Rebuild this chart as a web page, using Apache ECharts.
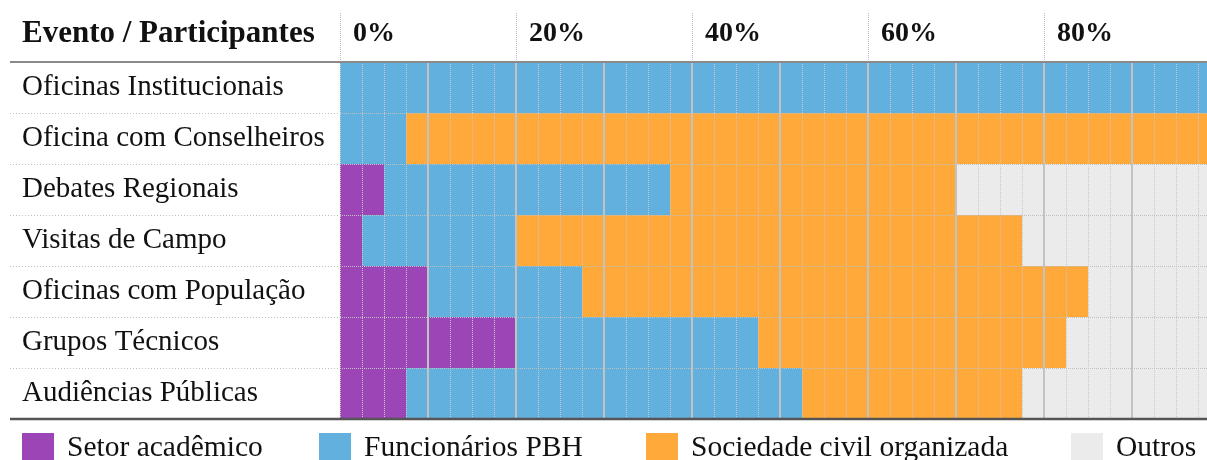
<!DOCTYPE html>
<html>
<head>
<meta charset="utf-8">
<script src="https://cdn.jsdelivr.net/npm/echarts@6/dist/echarts.min.js"></script>
<style>
html,body{margin:0;padding:0;background:#fff;}
#chart{width:1207px;height:460px;}
</style>
</head>
<body>
<div id="chart"></div>
<script>
const categories = ['Oficinas Institucionais','Oficina com Conselheiros','Debates Regionais','Visitas de Campo','Oficinas com População','Grupos Técnicos','Audiências Públicas'];
const academico = [0, 0, 5, 2.5, 10, 20, 7.5];
const funcionarios = [100, 7.5, 32.5, 17.5, 17.5, 27.5, 45];
const sociedade = [0, 92.5, 32.5, 57.5, 57.5, 35, 25];
const outros = [0, 0, 30, 22.5, 15, 17.5, 22.5];
const seriesNames = ['Setor acadêmico','Funcionários PBH','Sociedade civil organizada','Outros'];
const seriesColors = ['#9b45b7','#62b0dd','#fea93a','#ebebeb'];
const tickLabelSuffix = '%';
const headerTitle = 'Evento / Participantes';

(function () {
const FONT = 'Liberation Serif';
const chart = echarts.init(document.getElementById('chart'));
const values = [academico, funcionarios, sociedade, outros];
const legendLefts = [22, 319, 646, 1071];

const option = {
  animation: false,
  grid: {left: 340, top: 62, width: 880, height: 357, containLabel: false, outerBoundsMode: 'none'},
  xAxis: [
    {type:'value', min:0, max:100, interval:20, position:'top', z:10,
     axisLine:{show:false},
     axisTick:{show:true, inside:false, length:50, lineStyle:{type:'dotted', color:'#bbb', width:1}},
     axisLabel:{show:true, showMaxLabel:false, formatter: v => v + tickLabelSuffix, align:'left', verticalAlign:'middle', margin:28,
       padding:[0,0,0,13], fontFamily:FONT, fontWeight:'bold', fontSize:28, color:'#111'},
     splitLine:{show:false}},
    {type:'value', min:0, max:100, interval:2.5, z:10,
     axisLine:{show:false}, axisTick:{show:false}, axisLabel:{show:false},
     splitLine:{show:true, lineStyle:{type:'dotted', color:'#c8c8c8', width:1}}},
    {type:'value', min:0, max:100, interval:10, z:11,
     axisLine:{show:false}, axisTick:{show:false}, axisLabel:{show:false},
     splitLine:{show:true, showMinLine:false, lineStyle:{type:'solid', color:'#c2c2c2', width:2}}}
  ],
  yAxis: {type:'category', inverse:true, data:categories, z:10,
    axisLine:{show:false}, axisTick:{show:false},
    axisLabel:{align:'left', margin:318, fontFamily:FONT, fontSize:29, color:'#111'},
    splitLine:{show:true, lineStyle:{type:'dotted', color:'#c0c0c0', width:1}}},
  legend: seriesNames.map((n, i) => ({
    data:[n], left: legendLefts[i], top: 433, padding:0, icon:'rect', itemWidth:32, itemHeight:30,
    selectedMode:false, textStyle:{fontFamily:FONT, fontSize:29.5, color:'#111', padding:[0,0,0,8]}
  })),
  series: seriesNames.map((n, i) => ({
    name:n, type:'bar', stack:'total', data:values[i], xAxisIndex:0, yAxisIndex:0,
    barWidth:'100%', barCategoryGap:'0%', itemStyle:{color:seriesColors[i]},
    emphasis:{disabled:true}
  })),
  graphic: [
    {type:'text', x:22, y:34, z:20, style:{text:headerTitle, font:'bold 31px "Liberation Serif"', fill:'#111', textVerticalAlign:'middle'}}
  ]
};
chart.setOption(option);

const g = [];
const gridTop = 62, gridBottom = 419;
for (let i = 1; i < categories.length; i++) {
  const y = Math.round((chart.convertToPixel({yAxisIndex:0}, categories[i-1]) + chart.convertToPixel({yAxisIndex:0}, categories[i])) / 2) + 0.5;
  g.push({type:'line', z:20, shape:{x1:10, y1:y, x2:340, y2:y}, style:{stroke:'#c0c0c0', lineWidth:1, lineDash:[1,2]}});
}
g.push({type:'line', z:30, shape:{x1:10, y1:gridTop, x2:1207, y2:gridTop}, style:{stroke:'#8a8a8a', lineWidth:2}});
g.push({type:'line', z:30, shape:{x1:10, y1:gridBottom, x2:1207, y2:gridBottom}, style:{stroke:'#555', lineWidth:2.5}});
chart.setOption({graphic: option.graphic.concat(g)});
})();
</script>
</body>
</html>
